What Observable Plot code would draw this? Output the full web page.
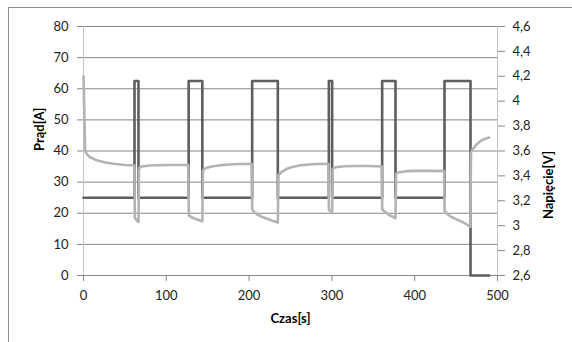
<!DOCTYPE html>
<html><head><meta charset="utf-8">
<script src="https://cdn.jsdelivr.net/npm/d3@7"></script>
<script src="https://cdn.jsdelivr.net/npm/@observablehq/plot@0.6"></script>
<style>
body{margin:0;background:#fff;overflow:hidden}
#wrap{position:relative;width:572px;height:342px;overflow:hidden}
#frame{position:absolute;left:8px;top:7px;width:700px;height:500px;border-left:1px solid #8c8c8c;border-top:1px solid #8c8c8c}
#chart{position:absolute;left:0;top:0}
</style></head><body><div id="wrap"><div id="frame"></div><div id="chart"></div></div>
<script>
// Current [A] — step series
const currentTimes  = [0, 61.6, 66.4, 127, 143.5, 203.7, 234.7, 296.3, 300.3, 360.7, 376.8, 436, 467.4, 490];
const currentValues = [25, 62.5, 25, 62.5, 25, 62.5, 25, 62.5, 25, 62.5, 25, 62.5, 0, 0];

// Voltage [V]
const voltageTimes = [0, 1, 2, 4, 8, 16, 25, 36, 50, 61.5,
  62, 64, 66.4,
  67, 70, 80, 100, 126.5,
  127.2, 130, 135, 140, 143.5,
  144.2, 148, 155, 165, 180, 203,
  203.8, 206, 210, 215, 220, 225, 230, 234.7,
  235.4, 240, 245, 250, 260, 270, 280, 295.8,
  296.4, 300.3,
  301, 305, 315, 330, 345, 360.2,
  360.8, 365, 370, 376.8,
  377.5, 382, 390, 400, 420, 435.5,
  436.2, 440, 445, 450, 455, 460, 467.3,
  468, 470, 475, 480, 485, 490];
const voltageValues = [4.200, 3.900, 3.600, 3.575, 3.550, 3.525, 3.510, 3.498, 3.488, 3.483,
  3.063, 3.045, 3.030,
  3.463, 3.475, 3.483, 3.488, 3.488,
  3.083, 3.070, 3.055, 3.043, 3.035,
  3.445, 3.463, 3.475, 3.485, 3.493, 3.498,
  3.133, 3.110, 3.090, 3.073, 3.060, 3.048, 3.035, 3.025,
  3.408, 3.435, 3.455, 3.468, 3.483, 3.490, 3.495, 3.498,
  3.125, 3.110,
  3.458, 3.470, 3.478, 3.480, 3.480, 3.475,
  3.130, 3.105, 3.083, 3.060,
  3.418, 3.430, 3.438, 3.440, 3.440, 3.438,
  3.115, 3.090, 3.068, 3.053, 3.038, 3.020, 2.993,
  3.588, 3.613, 3.655, 3.683, 3.698, 3.708];

const xTicks = [0, 100, 200, 300, 400, 500];
const leftTicks = [0, 10, 20, 30, 40, 50, 60, 70, 80];
const rightTickLabels = ["2,6", "2,8", "3", "3,2", "3,4", "3,6", "3,8", "4", "4,2", "4,4", "4,6"];
const rightTickValues = [2.6, 2.8, 3.0, 3.2, 3.4, 3.6, 3.8, 4.0, 4.2, 4.4, 4.6];

const vMin = 2.6, vMax = 4.6, aMax = 80;
const toLeft = v => (v - vMin) / (vMax - vMin) * aMax;

const current = currentTimes.map((t, i) => ({t, a: currentValues[i]}));
const voltage = voltageTimes.map((t, i) => ({t, u: toLeft(voltageValues[i])}));
const rightTicks = rightTickValues.map((v, i) => ({u: toLeft(v), label: rightTickLabels[i]}));

const font = "Lato, 'Open Sans', sans-serif";
const plot = Plot.plot({
  width: 572, height: 342,
  marginLeft: 83, marginRight: 75, marginTop: 26, marginBottom: 67,
  style: {fontFamily: font, fontSize: "13px", background: "transparent", color: "#222"},
  x: {domain: [0, 500]},
  y: {domain: [0, 80]},
  marks: [
    Plot.gridY(leftTicks.slice(1), {stroke: "#878787", strokeOpacity: 1}),
    Plot.ruleY([0], {stroke: "#878787"}),
    Plot.ruleX([0, 500], {stroke: "#c4c4c4"}),
    Plot.axisY(leftTicks, {anchor: "left", tickSize: 6, tickPadding: 9, stroke: "#878787", fill: "#222", label: null}),
    Plot.axisY(rightTicks.map(d => d.u), {anchor: "right", tickSize: 7, tickPadding: 8, stroke: "#878787", fill: "#222", label: null,
      tickFormat: d => rightTicks.find(r => Math.abs(r.u - d) < 1e-6).label}),
    Plot.axisX(xTicks, {anchor: "bottom", tickSize: 6, tickPadding: 9, stroke: "#878787", fill: "#222", label: null}),
    Plot.line(current, {x: "t", y: "a", curve: "step-after", stroke: "#5e5e5e", strokeWidth: 2.6, strokeLinejoin: "round"}),
    Plot.line(voltage, {x: "t", y: "u", stroke: "#b3b3b3", strokeWidth: 2.6, strokeLinejoin: "round"}),
    Plot.text(["Prąd[A]"], {frameAnchor: "left", dx: -44, rotate: -90, fontWeight: "bold", fontSize: 13, fill: "#000"}),
    Plot.text(["Napięcie[V]"], {frameAnchor: "right", dx: 51, rotate: -90, fontWeight: "bold", fontSize: 13, fill: "#000"}),
    Plot.text(["Czas[s]"], {frameAnchor: "bottom", dy: 47, fontWeight: "bold", fontSize: 13, fill: "#000"})
  ]
});
document.getElementById("chart").appendChild(plot);
</script>
</body></html>
